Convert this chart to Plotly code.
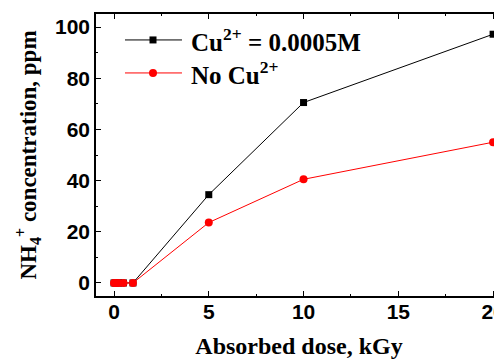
import plotly.graph_objects as go

dose = [0, 0.1, 0.25, 0.5, 1, 5, 10, 20]
cu_conc = [0, 0, 0, 0, 0, 34.5, 70.5, 97.2]
no_cu_conc = [0, 0, 0, 0, 0, 23.6, 40.5, 55.0]

series_names = ["<b>Cu<sup>2+</sup> = 0.0005M</b>", "<b>No Cu<sup>2+</sup></b>"]
series_colors = ["black", "#ff0000"]
series_symbols = ["square", "circle"]

x_ticks = [0, 5, 10, 15, 20]
y_ticks = [0, 20, 40, 60, 80, 100]

times = "Liberation Serif, Times New Roman, serif"
arial = "Liberation Sans, Arial, sans-serif"

fig = go.Figure()
for yv, nm, col, sym in zip([cu_conc, no_cu_conc], series_names, series_colors, series_symbols):
    fig.add_trace(go.Scatter(
        x=dose, y=yv, mode="lines+markers", name=nm,
        line=dict(color=col, width=1),
        marker=dict(symbol=sym, size=7 if sym == "square" else 8, color=col),
        showlegend=False,
    ))

# manual legend (paper coordinates)
leg_rows = [0.908, 0.791]
for ry, nm, col, sym in zip(leg_rows, series_names, series_colors, series_symbols):
    fig.add_shape(type="line", xref="paper", yref="paper", x0=0.0714, x1=0.2118, y0=ry, y1=ry,
                  line=dict(color=col, width=1))
    half = 3.5 if sym == "square" else 4
    fig.add_shape(type="rect" if sym == "square" else "circle",
                  xref="paper", yref="paper", xsizemode="pixel", ysizemode="pixel",
                  xanchor=0.1404, yanchor=ry, x0=-half, x1=half, y0=-half, y1=half,
                  fillcolor=col, line=dict(color=col, width=0))
    fig.add_annotation(xref="paper", yref="paper", x=0.229, y=ry, xanchor="left", yanchor="middle",
                       text=nm, showarrow=False, font=dict(family=times, size=25, color="black"))

fig.update_layout(
    width=494, height=351,
    margin=dict(l=88, r=0, t=6, b=63),
    paper_bgcolor="white", plot_bgcolor="white",
    showlegend=False,
)
fig.update_xaxes(
    range=[-0.95, 20.47], automargin=False, ticklabeloverflow="allow",
    tickvals=x_ticks, ticktext=["<b>%d</b>" % v for v in x_ticks],
    ticklabelstandoff=-4,
    showgrid=False, zeroline=False,
    showline=True, linecolor="black", linewidth=1.5, mirror="allticks",
    ticks="inside", ticklen=5, tickwidth=1.2, tickcolor="black",
    minor=dict(dtick=2.5, tick0=0, ticks="inside", ticklen=2, tickcolor="black", tickwidth=1),
    tickfont=dict(family=arial, size=21, color="black"),
    title=dict(text="<b>Absorbed dose, kGy</b>", font=dict(family=times, size=24, color="black"), standoff=29),
)
fig.update_yaxes(
    range=[-5.1, 105.1], automargin=False,
    tickvals=y_ticks, ticktext=["<b>%d</b>" % v for v in y_ticks],
    showgrid=False, zeroline=False,
    showline=True, linecolor="black", linewidth=1.5, mirror=False,
    ticks="inside", ticklen=5, tickwidth=1.2, tickcolor="black",
    minor=dict(dtick=10, tick0=0, ticks="inside", ticklen=2, tickcolor="black", tickwidth=1),
    tickfont=dict(family=arial, size=21, color="black"),
    title=dict(text="<b>NH<sub>4</sub><sup>+</sup> concentration, ppm</b>", font=dict(family=times, size=23, color="black"), standoff=12),
)

fig.write_html("out.html")
